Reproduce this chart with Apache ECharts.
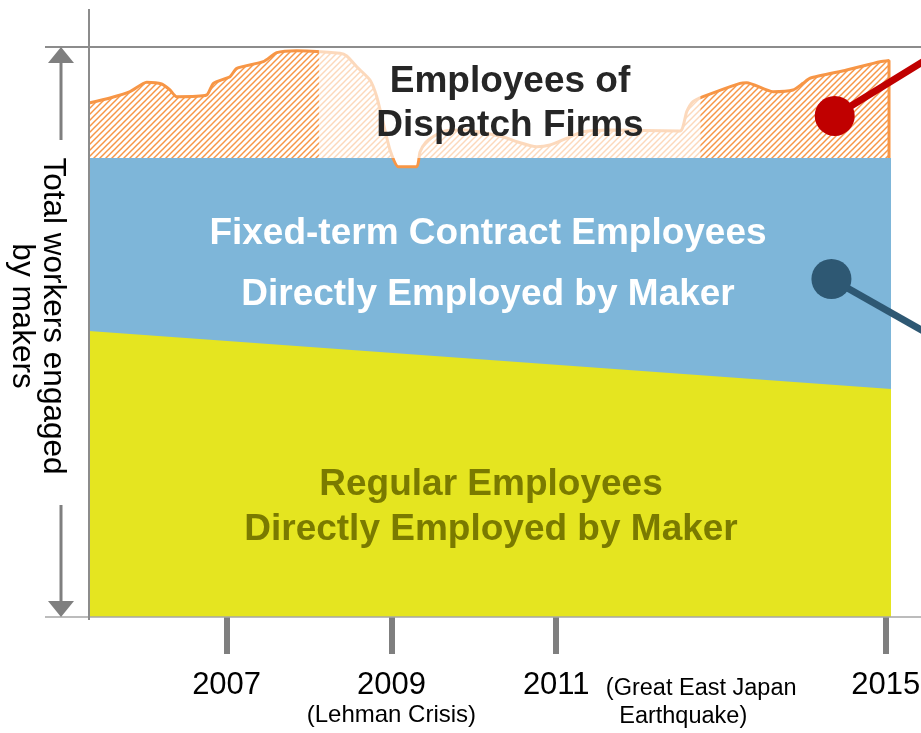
<!DOCTYPE html>
<html><head><meta charset="utf-8">
<script src="https://cdn.jsdelivr.net/npm/echarts@6/dist/echarts.min.js"></script>
<style>html,body{margin:0;padding:0;background:#fff}#c{width:921px;height:733px}</style>
</head><body><div id="c"></div>
<script>
// ---- data (x = year, y = share of total workers, 0..100) ----
const years = [2007, 2009, 2011, 2015];
const yearNotes = {2009: '(Lehman Crisis)'};
const quakeNote = ['(Great East Japan', 'Earthquake)'];

const dispatchTop = [
  [2005.330, 90.18], [2005.585, 91.05], [2005.828, 92.16], [2006.030, 93.81],
  [2006.212, 93.51], [2006.313, 92.46], [2006.394, 91.28], [2006.758, 91.58],
  [2006.839, 93.63], [2007.041, 94.79], [2007.123, 96.26], [2007.445, 97.42],
  [2007.608, 99.00], [2007.851, 99.35], [2008.376, 98.89], [2008.458, 98.42],
  [2008.579, 96.54], [2008.740, 94.21], [2008.822, 91.28], [2008.902, 86.61],
  [2008.983, 81.93], [2009.084, 79.00], [2009.307, 79.00], [2009.347, 81.58],
  [2009.420, 83.33], [2009.505, 84.26], [2009.650, 85.26], [2009.893, 85.44],
  [2010.197, 84.74], [2010.399, 84.04], [2010.521, 83.39], [2010.763, 82.51],
  [2010.925, 82.81], [2011.127, 83.98], [2011.325, 85.14], [2011.653, 85.44],
  [2012.502, 85.26], [2012.584, 88.65], [2012.660, 90.40], [2012.782, 91.28],
  [2013.231, 93.63], [2013.312, 93.74], [2013.631, 92.16], [2013.874, 92.46],
  [2013.995, 93.63], [2014.080, 94.51], [2014.525, 95.96], [2014.930, 97.42],
  [2015.039, 97.63], [2015.039, 80.53]
];
const fixedTermTop = [
  [2005.330, 80.53], [2009.007, 80.53], [2009.084, 79.00], [2009.307, 79.00],
  [2009.335, 80.53], [2015.063, 80.53]
];
const regularTop = [[2005.330, 50.18], [2015.063, 40.00]];
const fadeRange = [2008.12, 2012.75];

const calloutDots = [[2014.38, 87.9], [2014.34, 59.3]];
const calloutEnds = [[2015.90, 101.4], [2015.90, 46.5]];
const calloutColors = ['#c00000', '#2e5873'];

const areaLabels = [
  {text: 'Employees of\nDispatch Firms', color: '#262626', lh: 44},
  {text: 'Fixed-term Contract Employees\nDirectly Employed by Maker', color: '#ffffff', lh: 61},
  {text: 'Regular Employees\nDirectly Employed by Maker', color: '#7a7a00', lh: 45}
];
const sideLabel = 'Total workers engaged\nby makers';

// ---- hatch pattern ----
function hatch(color) {
  const c = document.createElement('canvas');
  c.width = 6; c.height = 6;
  const g = c.getContext('2d');
  g.strokeStyle = color; g.lineWidth = 1.5;
  g.beginPath(); g.moveTo(-1, 7); g.lineTo(7, -1); g.stroke();
  g.beginPath(); g.moveTo(-1, 1); g.lineTo(1, -1); g.stroke();
  g.beginPath(); g.moveTo(5, 7); g.lineTo(7, 5); g.stroke();
  return c;
}

const FONT = '"Liberation Sans", Arial, sans-serif';
const chart = echarts.init(document.getElementById('c'));
const option = {
  animation: false,
  grid: {left: 89, right: 0, top: 47, bottom: 116, containLabel: false, outerBoundsMode: 'none'},
  xAxis: {
    type: 'value', min: 2005.33, max: 2015.427, offset: 3,
    axisLine: {show: false}, splitLine: {show: false},
    axisTick: {customValues: years, length: 37, lineStyle: {width: 6, color: '#7f7f7f'}},
    axisLabel: {
      customValues: years, margin: 50, color: '#000', fontFamily: FONT, fontSize: 31,
      formatter: v => yearNotes[v] ? '{y|' + v + '}\n{n|' + yearNotes[v] + '}' : '{y|' + v + '}',
      rich: {
        y: {fontSize: 31, lineHeight: 31, fontFamily: FONT, color: '#000'},
        n: {fontSize: 24, lineHeight: 29, fontFamily: FONT, color: '#000'}
      }
    }
  },
  yAxis: {type: 'value', min: 0, max: 100, show: false},
  series: [
    {type: 'line', name: 'Employees of Dispatch Firms', data: dispatchTop, smooth: 0.2, symbol: 'none', z: 1,
     lineStyle: {opacity: 0}, areaStyle: {color: {image: hatch('#f79646'), repeat: 'repeat'}, opacity: 1, origin: 'start'}},
    {type: 'line', name: 'Fixed-term', data: fixedTermTop, symbol: 'none', z: 2,
     lineStyle: {opacity: 0}, areaStyle: {color: '#7eb6d9', opacity: 1, origin: 'start'}},
    {type: 'line', name: 'Regular', data: regularTop, symbol: 'none', z: 3,
     lineStyle: {opacity: 0}, areaStyle: {color: '#e5e520', opacity: 1, origin: 'start'}},
    {type: 'line', name: 'Dispatch outline', data: dispatchTop, smooth: 0.2, symbol: 'none', z: 4,
     lineStyle: {color: '#f79646', width: 3}},
    {type: 'lines', coordinateSystem: 'cartesian2d', clip: false, z: 10,
     data: calloutDots.map((d, i) => ({coords: [d, calloutEnds[i]], lineStyle: {color: calloutColors[i], width: 7, opacity: 1}}))},
    {type: 'scatter', clip: false, z: 11, symbolSize: 40,
     data: calloutDots.map((d, i) => ({value: d, itemStyle: {color: calloutColors[i], opacity: 1}}))}
  ]
};
chart.setOption(option);

const P = (x, y) => chart.convertToPixel({gridIndex: 0}, [x, y]);
const [gx0, gyBot] = P(2005.33, 0);
const [gx1, gyTop] = P(2015.427, 100);
const [fx0, fyTop] = P(fadeRange[0], 100);
const [fx1, fyBot] = P(fadeRange[1], fixedTermTop[0][1]);
const [qx] = P(2011, 0);
const grey = '#7f7f7f';
const graphic = [
  {type: 'rect', z: 5, shape: {x: fx0, y: fyTop, width: fx1 - fx0, height: fyBot - fyTop}, style: {fill: 'rgba(255,255,255,0.64)'}},
  {type: 'line', z: 6, shape: {x1: 45, y1: gyTop, x2: 921, y2: gyTop}, style: {stroke: '#8c8c8c', lineWidth: 2}},
  {type: 'line', z: 6, shape: {x1: 45, y1: gyBot, x2: 921, y2: gyBot}, style: {stroke: '#a6a6a6', lineWidth: 1.5}},
  {type: 'line', z: 6, shape: {x1: gx0, y1: 9, x2: gx0, y2: gyBot + 3}, style: {stroke: '#8c8c8c', lineWidth: 2}},
  // arrow
  {type: 'line', z: 6, shape: {x1: 61, y1: gyTop + 14, x2: 61, y2: 140}, style: {stroke: grey, lineWidth: 3}},
  {type: 'line', z: 6, shape: {x1: 61, y1: 505, x2: 61, y2: gyBot - 14}, style: {stroke: grey, lineWidth: 3}},
  {type: 'polygon', z: 6, shape: {points: [[48, gyTop + 16], [74, gyTop + 16], [61, gyTop]]}, style: {fill: grey}},
  {type: 'polygon', z: 6, shape: {points: [[48, gyBot - 16], [74, gyBot - 16], [61, gyBot]]}, style: {fill: grey}},
  {type: 'text', z: 20, x: 37, y: 316, rotation: -Math.PI / 2,
   style: {text: sideLabel, align: 'center', verticalAlign: 'middle', fontSize: 31.5, fontFamily: FONT, lineHeight: 31, fill: '#000'}},
  {type: 'text', z: 20, x: qx + 145, y: 689,
   style: {text: quakeNote[0], align: 'center', verticalAlign: 'middle', fontSize: 23.5, fontFamily: FONT, fill: '#000'}},
  {type: 'text', z: 20, x: qx + 127, y: 717,
   style: {text: quakeNote[1], align: 'center', verticalAlign: 'middle', fontSize: 23.5, fontFamily: FONT, fill: '#000'}}
];
const labelPos = [[510, 104], [488, 264], [491, 507]];
areaLabels.forEach((l, i) => graphic.push({
  type: 'text', z: 20, x: labelPos[i][0], y: labelPos[i][1],
  style: {text: l.text, align: 'center', verticalAlign: 'middle', fontSize: 37, fontWeight: 'bold',
          fontFamily: FONT, lineHeight: l.lh, fill: l.color}
}));
chart.setOption({graphic: graphic});
</script>
</body></html>
